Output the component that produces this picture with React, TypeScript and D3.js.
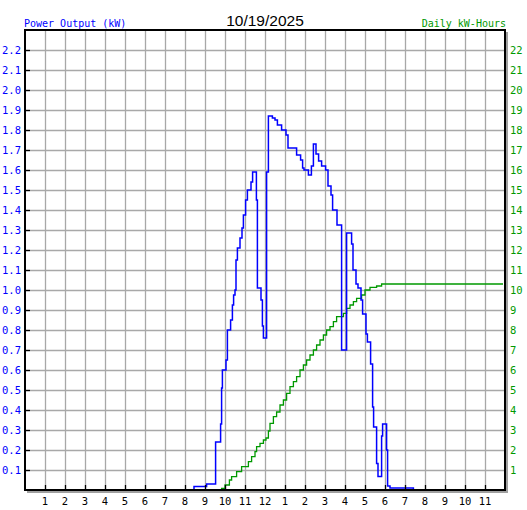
import React from "react";
import * as d3 from "d3";

const powerHours = [8.28, 8.45, 9.08, 9.53, 9.78, 9.83, 9.87, 10.05, 10.12, 10.28, 10.37, 10.43, 10.5, 10.55, 10.62, 10.75, 10.85, 10.92, 11.03, 11.12, 11.3, 11.38, 11.57, 11.62, 11.8, 11.87, 11.92, 12.08, 12.17, 12.37, 12.5, 12.62, 12.83, 13.05, 13.15, 13.58, 13.78, 13.88, 13.95, 14.17, 14.32, 14.42, 14.55, 14.68, 14.83, 15.03, 15.15, 15.3, 15.38, 15.6, 15.83, 16.08, 16.33, 16.4, 16.55, 16.65, 16.8, 16.88, 17.05, 17.12, 17.28, 17.38, 17.43, 17.58, 17.65, 17.83, 17.88, 18.08, 18.13, 18.25, 19.42];
const powerKW = [0, 0.017, 0.03, 0.24, 0.33, 0.51, 0.6, 0.65, 0.8, 0.85, 0.925, 0.975, 1.0, 1.15, 1.21, 1.26, 1.31, 1.375, 1.45, 1.5, 1.54, 1.59, 1.45, 1.01, 0.95, 0.82, 0.76, 1.59, 1.87, 1.86, 1.85, 1.825, 1.8, 1.775, 1.71, 1.675, 1.65, 1.61, 1.6, 1.575, 1.62, 1.73, 1.68, 1.645, 1.62, 1.6, 1.52, 1.475, 1.4, 1.325, 0.7, 1.285, 1.23, 1.1, 1.03, 1.01, 0.95, 0.88, 0.78, 0.74, 0.63, 0.415, 0.315, 0.133, 0.067, 0.27, 0.33, 0.2, 0.02, 0.01, 0];

const energyHours = [8.35, 9.83, 10.0, 10.22, 10.33, 10.58, 10.83, 11.17, 11.33, 11.5, 11.58, 11.75, 11.92, 12.05, 12.17, 12.25, 12.42, 12.58, 12.75, 12.92, 13.08, 13.25, 13.42, 13.58, 13.75, 13.92, 14.08, 14.25, 14.42, 14.58, 14.75, 14.92, 15.08, 15.25, 15.42, 15.58, 15.92, 16.08, 16.25, 16.42, 16.58, 16.83, 17.0, 17.25, 17.58, 17.83, 23.9];
const energyKWh = [0, 0.08, 0.25, 0.5, 0.67, 0.92, 1.17, 1.42, 1.67, 1.92, 2.17, 2.33, 2.5, 2.6, 2.95, 3.33, 3.67, 3.9, 4.25, 4.5, 4.83, 5.17, 5.42, 5.67, 6.0, 6.25, 6.5, 6.75, 7.0, 7.25, 7.5, 7.75, 8.0, 8.17, 8.42, 8.67, 8.83, 9.08, 9.25, 9.42, 9.58, 9.75, 10.0, 10.13, 10.2, 10.3, 10.3];

const hourTicks = d3.range(1, 24);
const hourLabels = hourTicks.map((h) => String(((h - 1) % 12) + 1));
const kwTicks = d3.range(1, 23).map((i) => i / 10);
const kwhTicks = d3.range(1, 23);

const title = "10/19/2025";
const leftTitle = "Power Output (kW)";
const rightTitle = "Daily kW-Hours";

const W = 527, H = 510;
const L = 25, R = 505, T = 30, B = 490;
const BLUE = "#0000ff";
const GREEN = "#009900";
const GRID = "#a8a8a8";
const MONO = "'DejaVu Sans Mono', monospace";

export default function App() {
  const x = d3.scaleLinear().domain([0, 24]).range([L, R]);
  const yL = d3.scaleLinear().domain([0, 2.3]).range([B, T]);
  const yR = d3.scaleLinear().domain([0, 23]).range([B, T]);

  const power = powerHours.map((h, i) => [h, powerKW[i]] as [number, number]);
  const energy = energyHours.map((h, i) => [h, energyKWh[i]] as [number, number]);

  const powerLine = d3.line<[number, number]>().x((d) => x(d[0])).y((d) => yL(d[1])).curve(d3.curveStepAfter);
  const energyLine = d3.line<[number, number]>().x((d) => x(d[0])).y((d) => yR(d[1])).curve(d3.curveStepAfter);

  return (
    <div style={{ position: "absolute", left: 0, top: 0 }}>
      <svg width={W} height={H} style={{ display: "block", background: "#fff" }}>
        <rect x={0} y={0} width={W} height={H} fill="#fff" />
        {/* shadow */}
        <rect x={L + 2} y={T + 2} width={R - L + 1} height={B - T + 1} fill="#a0a0a0" />
        <rect x={L} y={T} width={R - L} height={B - T} fill="#fff" />
        {/* grid */}
        {hourTicks.map((h) => (
          <line key={"vg" + h} x1={Math.round(x(h)) + 0.5} x2={Math.round(x(h)) + 0.5} y1={T} y2={B} stroke={GRID} strokeWidth={1.3} />
        ))}
        {kwTicks.map((v) => (
          <line key={"hg" + v} x1={L} x2={R} y1={Math.round(yL(v)) + 0.5} y2={Math.round(yL(v)) + 0.5} stroke={GRID} strokeWidth={1.3} />
        ))}
        {/* series */}
        <path d={energyLine(energy) || ""} fill="none" stroke={GREEN} strokeWidth={1.3} />
        <path d={powerLine(power) || ""} fill="none" stroke={BLUE} strokeWidth={1.5} />
        {/* border */}
        <rect x={L} y={T} width={R - L} height={B - T} fill="none" stroke="#000" strokeWidth={2} />
        {/* ticks */}
        {kwTicks.map((v) => (
          <line key={"lt" + v} x1={L} x2={L + 5} y1={Math.round(yL(v)) + 0.5} y2={Math.round(yL(v)) + 0.5} stroke="#000" strokeWidth={1.3} />
        ))}
        {hourTicks.map((h) => (
          <line key={"bt" + h} x1={Math.round(x(h)) + 0.5} x2={Math.round(x(h)) + 0.5} y1={B - 5} y2={B} stroke="#000" strokeWidth={1.3} />
        ))}
        {/* labels */}
        {kwTicks.map((v) => (
          <text key={"ll" + v} x={21} y={yL(v) + 4} textAnchor="end" fontFamily={MONO} fontSize={10.5} fill={BLUE}>
            {v.toFixed(1)}
          </text>
        ))}
        {kwhTicks.map((v) => (
          <text key={"rl" + v} x={510} y={yR(v) + 4} textAnchor="start" fontFamily={MONO} fontSize={10.5} fill={GREEN}>
            {String(v)}
          </text>
        ))}
        {hourTicks.map((h, i) => (
          <text key={"bl" + h} x={x(h)} y={505} textAnchor="middle" fontFamily={MONO} fontSize={10.5} fill="#000">
            {hourLabels[i]}
          </text>
        ))}
        <text x={24} y={26.5} fontFamily={MONO} fontSize={10} fill={BLUE}>{leftTitle}</text>
        <text x={(L + R) / 2} y={26} textAnchor="middle" fontFamily="'Liberation Sans', Arial, sans-serif" fontSize={15.5} fill="#000">{title}</text>
        <text x={506} y={26.5} textAnchor="end" fontFamily={MONO} fontSize={10} fill={GREEN}>{rightTitle}</text>
      </svg>
    </div>
  );
}
